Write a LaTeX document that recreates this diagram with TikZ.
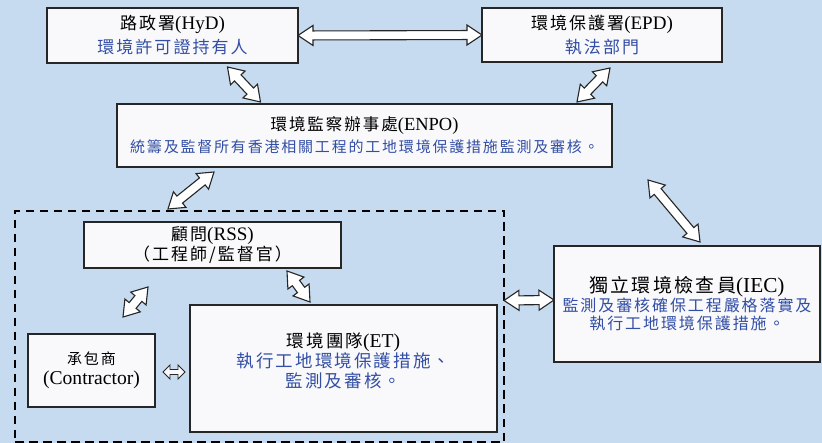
\documentclass[tikz,border=0pt]{standalone}
\usepackage{fontspec}
\setmainfont{Noto Sans CJK TC}[LetterSpace=12]
\newfontfamily\en{Liberation Serif}[Scale=1.12]
\usetikzlibrary{calc, positioning}
\definecolor{bgblue}{RGB}{198,218,240}
\definecolor{txtblue}{RGB}{50,78,165}
\definecolor{boxwhite}{RGB}{249,249,251}

% hollow two-headed block arrow from tip #1 to tip #2
\newcommand\lkhl{15}  % head length
\newcommand\lkhw{10}  % head half width
\newcommand\lksw{4.5} % shaft half width
\newcommand\link[3][]{%
  \path let \p1=(#2), \p2=(#3), \n1={atan2(\y2-\y1,\x2-\x1)}, \n2={veclen(\x2-\x1,\y2-\y1)} in
    \pgfextra{\xdef\lka{\n1}\xdef\lkl{\n2}\xdef\lkx{\x1}\xdef\lky{\y1}};
  \draw[linkarrow, #1, shift={(\lkx,\lky)}, rotate=\lka]
    (0,0) -- (\lkhl,\lkhw) -- (\lkhl,\lksw) -- (\lkl-\lkhl,\lksw) -- (\lkl-\lkhl,\lkhw) -- (\lkl,0)
    -- (\lkl-\lkhl,-\lkhw) -- (\lkl-\lkhl,-\lksw) -- (\lkhl,-\lksw) -- (\lkhl,-\lkhw) -- cycle;}

\begin{document}
\begin{tikzpicture}[x=1pt, y=-1pt,
    box/.style={draw=black!85, line width=1.2pt, fill=boxwhite, inner sep=0pt, outer sep=0pt, align=center},
    linkarrow/.style={draw=black!85, fill=white, line width=1.1pt, line join=miter}]
  \fill[bgblue] (0,0) rectangle (822,443);
  \useasboundingbox (0,0) rectangle (822,443);

  % top row
  \node[box, minimum width=251pt, minimum height=55pt, font=\fontsize{17}{24}\selectfont] (hyd) at (172.5,35.5)
    {路政署{\en (HyD)}\\ \textcolor{txtblue}{環境許可證持有人}};
  \node[box, minimum width=240pt, minimum height=54pt, font=\fontsize{17}{24}\selectfont] (epd) at (602,35)
    {環境保護署{\en (EPD)}\\ \textcolor{txtblue}{執法部門}};

  \node[box, minimum width=495pt, minimum height=63pt, font=\fontsize{16.5}{22}\selectfont] (enpo) at (364.5,135.5)
    {環境監察辦事處{\en (ENPO)}\\ \textcolor{txtblue}{\fontsize{15}{22}\selectfont 統籌及監督所有香港相關工程的工地環境保護措施監測及審核。}};

  % dashed group
  \node[draw=black, line width=2.3pt, dash pattern=on 8.5pt off 5.5pt, minimum width=489pt, minimum height=231pt,
    inner sep=0pt, outer sep=0pt] (grp) at (259.5,326.5) {};

  \node[box, minimum width=257pt, minimum height=46pt, font=\fontsize{17}{20}\selectfont] (rss) at (212.5,245)
    {顧問{\en (RSS)}\\（工程師/監督官）};
  \node[box, minimum width=127pt, minimum height=73pt, font=\fontsize{15}{20}\selectfont] (con) at (91.5,370.5)
    {承包商\\{\en\fontsize{17.5}{20}\selectfont (Contractor)}};
  \node[box, minimum width=307pt, minimum height=127pt] (et) at (343.5,368.5) {};
  \node[align=center, font=\fontsize{17.5}{20}\selectfont] (ettxt) at ([yshift=8pt]et.center)
    {環境團隊{\en (ET)}\\ \textcolor{txtblue}{執行工地環境保護措施、}\\ \textcolor{txtblue}{監測及審核。}};

  \node[box, minimum width=266pt, minimum height=116pt, font=\fontsize{16}{18}\selectfont] (iec) at (687,304)
    {{\fontsize{19}{18}\selectfont 獨立環境檢查員{\en (IEC)}}\\
     \textcolor{txtblue}{監測及審核確保工程嚴格落實及}\\ \textcolor{txtblue}{執行工地環境保護措施。}};

  % links
  \link{hyd.east}{epd.west}
  \link{[xshift=55pt,yshift=-4pt]hyd.south}{[xshift=-104pt,yshift=2pt]enpo.north}
  \link{[xshift=8pt,yshift=-6pt]epd.south}{[xshift=212.5pt,yshift=2pt]enpo.north}
  \link{[xshift=-150.5pt,yshift=-5pt]enpo.south}{[xshift=-91.5pt,yshift=2pt]grp.north}
  \link{[xshift=283.5pt,yshift=-13pt]enpo.south}{[xshift=13pt,yshift=4pt]iec.north}
  \link{[yshift=26pt]grp.east}{[yshift=4pt]iec.west}
  \link{[xshift=-64.5pt,yshift=-19pt]rss.south}{[xshift=31.5pt,yshift=17pt]con.north}
  \link{[xshift=74.5pt,yshift=-3pt]rss.south}{[xshift=-33.5pt,yshift=3pt]et.north}
  {\renewcommand\lkhl{7}\renewcommand\lkhw{7}\renewcommand\lksw{2.5}
   \link[line width=0.9pt, fill=boxwhite]{[xshift=8pt,yshift=-1.5pt]con.east}{[xshift=-5pt,yshift=-3.5pt]et.west}}
\end{tikzpicture}
\end{document}
